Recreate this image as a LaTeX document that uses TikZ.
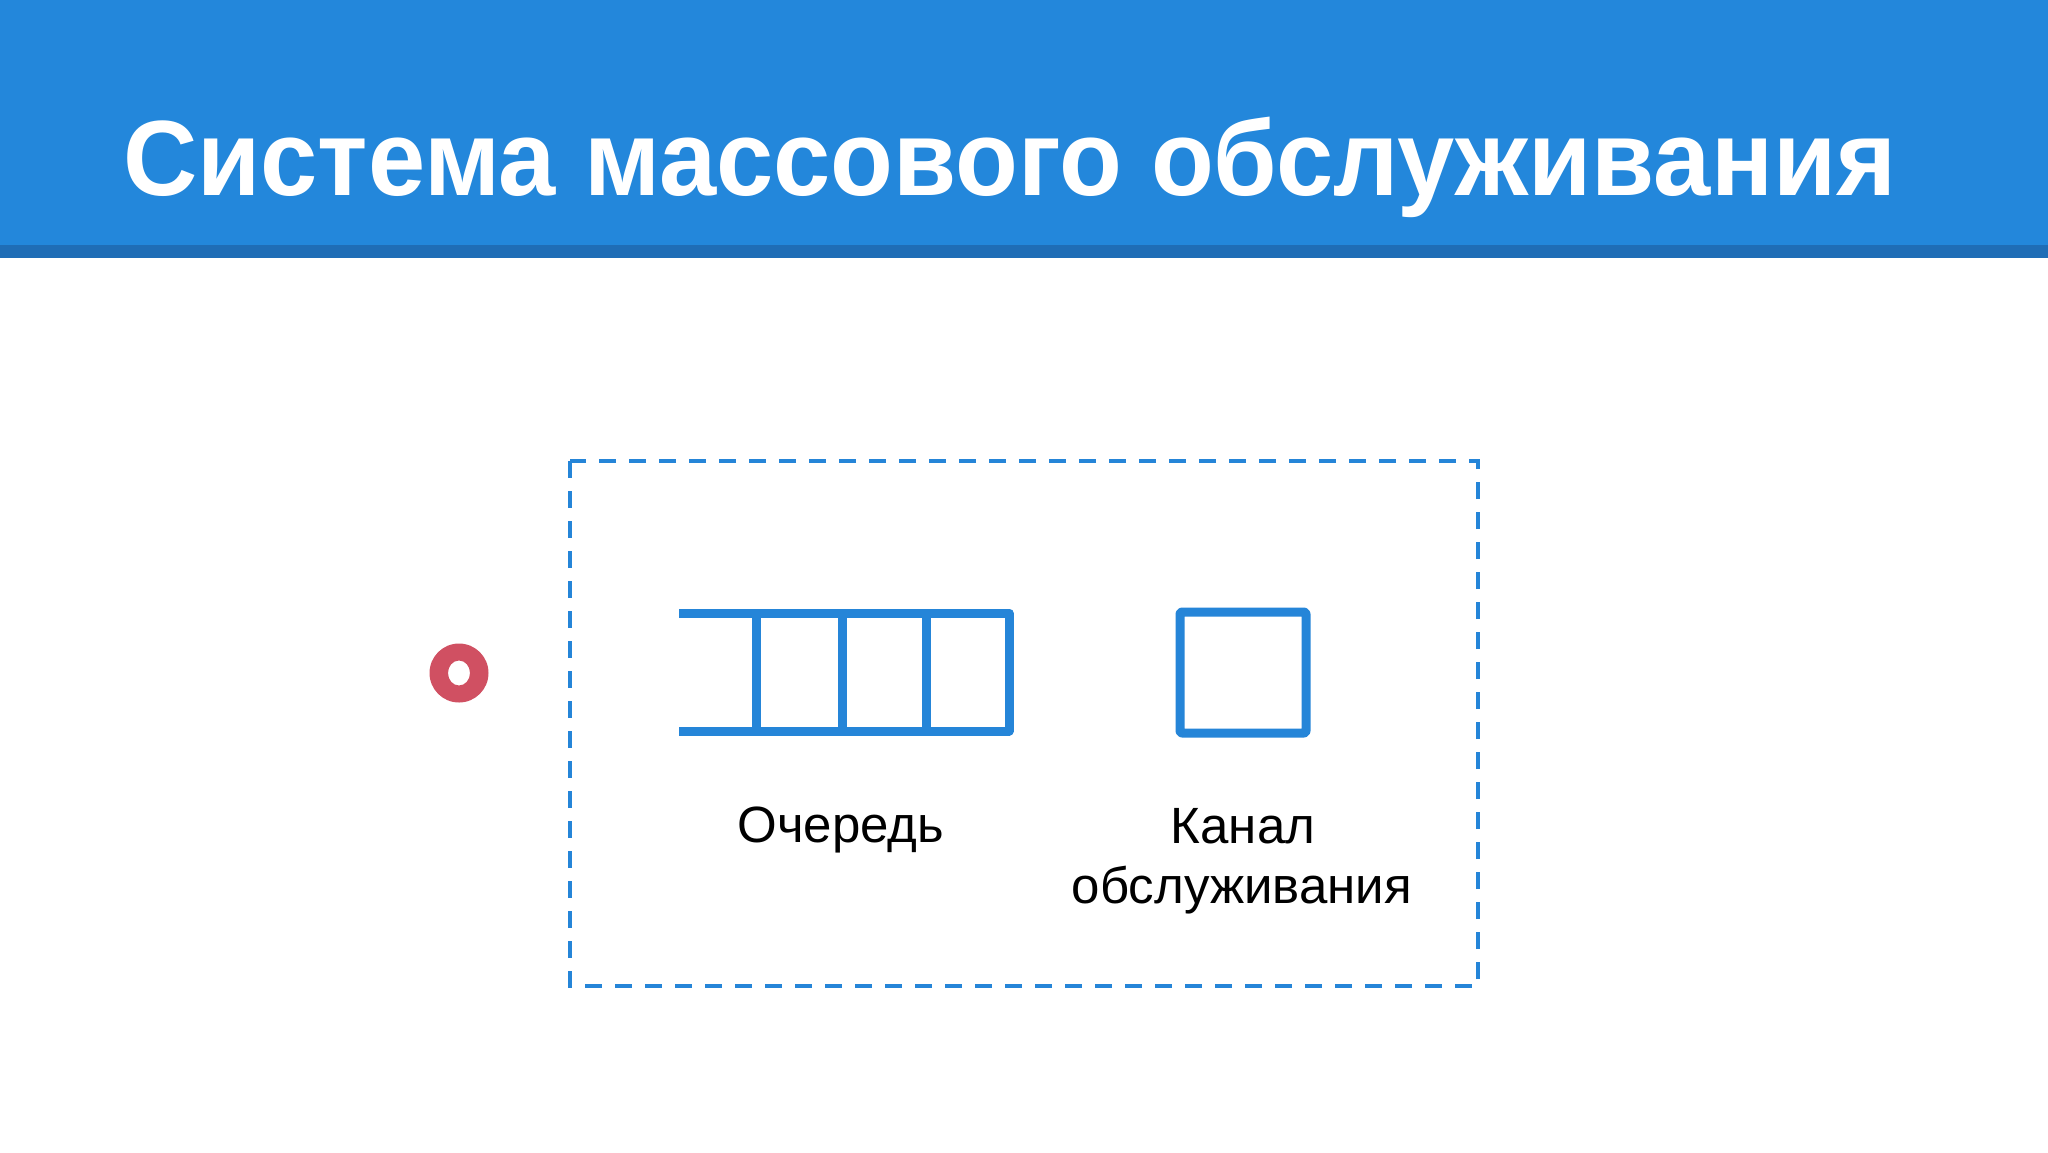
\documentclass[tikz,border=0pt]{standalone}
\usepackage{fontspec}
\setmainfont{Liberation Sans}
\definecolor{hdrblue}{HTML}{2387DB}
\definecolor{hdrdark}{HTML}{1F6DB6}
\definecolor{lineblue}{HTML}{2585D8}
\definecolor{dotred}{HTML}{D05062}
\tikzset{
  boxline/.style={draw=lineblue, line width=9pt, line join=round},
  dashframe/.style={draw=lineblue, line width=4.5pt, dash pattern=on 17pt off 13pt},
  lbl/.style={font=\fontsize{51}{61}\selectfont, text=black, align=center, inner sep=0pt}
}
\begin{document}
\begin{tikzpicture}[x=1pt,y=-1pt]
\useasboundingbox (0,0) rectangle (2048,1152);
\fill[white] (0,0) rectangle (2048,1152);
% header
\fill[hdrblue] (0,0) rectangle (2048,246);
\fill[hdrdark] (0,245) rectangle (2048,258);
\node[anchor=base west, inner sep=0pt, text=white, font=\bfseries\fontsize{107}{128}\selectfont] (title) at (123,195) {\scalebox{0.961}[1]{Система массового обслуживания}};
% dashed frame
\draw[dashframe] (570,461) rectangle (1478,986);
% incoming client
\fill[dotred, even odd rule] (459,673) circle[radius=29.5] (459,673) ellipse[x radius=11, y radius=12.5];
% queue
\draw[boxline, line cap=butt] (679,613) -- (1009,613) -- (1009,731) -- (679,731);
\draw[boxline] (756,613) -- (756,731);
\draw[boxline] (842,613) -- (842,731);
\draw[boxline] (926,613) -- (926,731);
\coordinate (queue) at (844,672);
% server
\draw[boxline, rounded corners=2pt] (1180,612) rectangle (1306,733);
\coordinate (server) at (1243,672);
% labels
\node[lbl, anchor=base] (qlabel) at (841,842) {Очередь};
\node[lbl, anchor=base] (slabel1) at (1243,843) {Канал};
\node[lbl, anchor=base] (slabel2) at (1242,903) {обслуживания};
\end{tikzpicture}
\end{document}
